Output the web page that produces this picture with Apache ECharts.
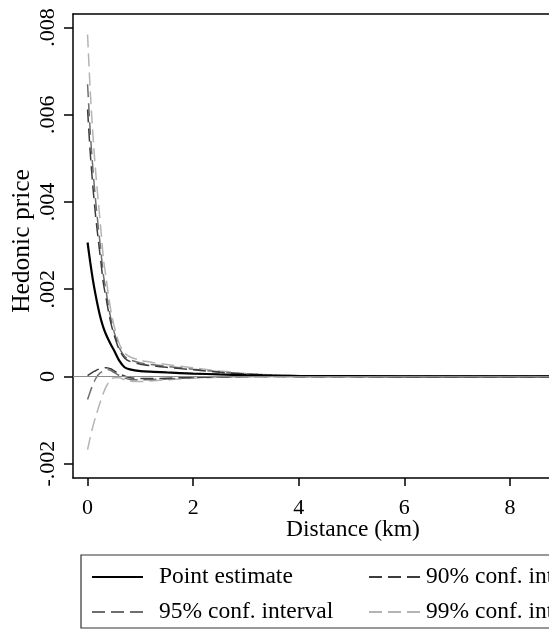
<!DOCTYPE html>
<html>
<head>
<meta charset="utf-8">
<title>Hedonic price by distance</title>
<script src="https://cdn.jsdelivr.net/npm/echarts@6/dist/echarts.min.js"></script>
<style>
    body { margin: 0; background: #fff; }
    #chart { width: 549px; height: 630px; }
</style>
</head>
<body>
<div id="chart"></div>
<script>
// Distance grid (km)
const distance = [0, 0.05, 0.1, 0.15, 0.2, 0.25, 0.3, 0.35, 0.4, 0.45, 0.5, 0.6, 0.7, 0.8, 1.0, 1.25, 1.5, 2.0, 2.5, 3.0, 3.5, 4, 6, 8, 10];

// Point estimate
const pointEstimate = [0.00307, 0.00262, 0.00222, 0.00188, 0.00158, 0.00132, 0.00112, 0.00096, 0.00083, 0.00071, 0.00060, 0.00036, 0.00021, 0.00016, 0.00012, 0.000105, 0.00009, 0.000065, 0.000045, 0.000028, 0.000015, 0.000008, 0.000001, 0, 0];

// Confidence bounds
const upper90 = [0.00612, 0.00514, 0.00436, 0.00371, 0.00316, 0.00265, 0.00213, 0.00180, 0.00146, 0.00118, 0.00096, 0.00061, 0.00042, 0.000345, 0.00028, 0.00024, 0.000207, 0.00015, 0.000095, 0.000053, 0.000028, 0.000015, 0.000003, 0.000001, 0];
const lower90 = [0.00002, 0.00006, 0.0001, 0.00013, 0.00016, 0.00018, 0.00019, 0.0002, 0.00019, 0.00017, 0.00013, 0.00006, 0.00001, -0.00003, -0.00005, -0.00005, -0.00004, -0.00002, -0.00001, -0.000004, 0, 0, 0, 0, 0];
const upper95 = [0.00670, 0.00562, 0.00477, 0.00406, 0.00346, 0.00290, 0.00232, 0.00196, 0.00158, 0.00127, 0.00103, 0.00066, 0.00046, 0.00038, 0.00031, 0.000265, 0.00023, 0.000165, 0.000105, 0.000058, 0.00003, 0.000016, 0.000003, 0.000001, 0];
const lower95 = [-0.00053, -0.00035, -0.00019, -0.00006, 0.00003, 0.00009, 0.00013, 0.00015, 0.00015, 0.00013, 0.00009, 0.00002, -0.00004, -0.00007, -0.00008, -0.00007, -0.00006, -0.00003, -0.000015, -0.000005, 0, 0, 0, 0, 0];
const upper99 = [0.00784, 0.00656, 0.00557, 0.00474, 0.00405, 0.00340, 0.00270, 0.00227, 0.00182, 0.00145, 0.00117, 0.00075, 0.00054, 0.00045, 0.00037, 0.000315, 0.000274, 0.000196, 0.000124, 0.000068, 0.000035, 0.000018, 0.000004, 0.000001, 0];
const lower99 = [-0.00168, -0.00140, -0.00115, -0.00094, -0.00074, -0.00055, -0.00038, -0.00024, -0.00013, -0.00006, -0.00003, -0.00003, -0.00008, -0.00011, -0.00012, -0.0001, -0.00008, -0.00004, -0.00002, -0.00001, -0.000005, -0.000002, 0, 0, 0];

// Axis ticks and labels
const xTicks = [0, 2, 4, 6, 8];
const yTicks = [-0.002, 0, 0.002, 0.004, 0.006, 0.008];
const yTickLabels = ['-.002', '0', '.002', '.004', '.006', '.008'];

const FONT = '"Liberation Serif", "DejaVu Serif", serif';

function pairs(ys) {
    return distance.map((d, i) => [d, ys[i]]);
}

function band(name, ys, color) {
    return {
        name: name,
        type: 'line',
        data: pairs(ys),
        symbol: 'none',
        smooth: 0.25,
        lineStyle: { color: color, width: 1.5, type: [13, 6] },
        itemStyle: { color: color },
        z: 2
    };
}

document.addEventListener('DOMContentLoaded', function() {
    const chart = echarts.init(document.getElementById('chart'), null, { renderer: 'canvas' });

    // legend keys: line only, hide the round marker
    const legendBase = {
        orient: 'vertical',
        top: 565,
        padding: 0,
        itemHeight: 14,
        itemGap: 11,
        itemStyle: { opacity: 0 },
        selectedMode: false
    };

    const option = {
        backgroundColor: '#fff',
        animation: false,
        grid: {
            left: 73,
            top: 14,
            right: 0,
            height: 464,
            show: false,
            outerBoundsMode: 'none'
        },
        xAxis: [{
            type: 'value',
            min: -0.276,
            max: 8.74,
            name: 'Distance (km)',
            nameLocation: 'middle',
            nameGap: 40,
            nameMoveOverlap: false,
            nameTextStyle: { fontFamily: FONT, fontSize: 23.5, color: '#000', padding: [0, 0, 0, 84] },
            axisLine: { show: true, onZero: false, lineStyle: { color: '#000', width: 1.5 } },
            axisTick: { show: true, length: 8, customValues: xTicks, lineStyle: { color: '#000', width: 1.5 } },
            axisLabel: { customValues: xTicks, margin: 19, fontFamily: FONT, fontSize: 22, color: '#000' },
            splitLine: { show: false }
        }, {
            // top frame line
            type: 'value',
            position: 'top',
            min: -0.276,
            max: 8.74,
            axisLine: { show: true, onZero: false, lineStyle: { color: '#000', width: 1.5 } },
            axisTick: { show: false },
            axisLabel: { show: false },
            splitLine: { show: false }
        }],
        yAxis: {
            type: 'value',
            min: -0.00233,
            max: 0.00831,
            name: 'Hedonic price',
            nameLocation: 'middle',
            nameGap: 38,
            nameMoveOverlap: false,
            nameRotate: 90,
            nameTextStyle: { fontFamily: FONT, fontSize: 25.5, color: '#000', padding: [0, 0, 0, 10] },
            axisLine: { show: true, onZero: false, lineStyle: { color: '#000', width: 1.5 } },
            axisTick: { show: true, length: 9, customValues: yTicks, lineStyle: { color: '#000', width: 1.5 } },
            axisLabel: {
                customValues: yTicks,
                rotate: 90,
                margin: 14,
                fontFamily: FONT,
                fontSize: 22,
                color: '#000',
                formatter: function(v) {
                    const i = yTicks.findIndex(t => Math.abs(t - v) < 1e-9);
                    return i >= 0 ? yTickLabels[i] : '';
                }
            },
            splitLine: { show: false }
        },
        legend: [
            Object.assign({}, legendBase, {
                data: ['Point estimate', '95% conf. interval'],
                left: 91,
                itemWidth: 51,
                textStyle: { fontFamily: FONT, fontSize: 23.5, lineHeight: 24, color: '#000', padding: [0, 0, 0, 11] }
            }),
            Object.assign({}, legendBase, {
                data: ['90% conf. interval', '99% conf. interval'],
                left: 368,
                itemWidth: 52,
                textStyle: { fontFamily: FONT, fontSize: 23.5, lineHeight: 24, color: '#000' }
            })
        ],
        graphic: [{
            type: 'rect',
            shape: { x: 81, y: 555, width: 600, height: 73 },
            style: { fill: 'none', stroke: '#333', lineWidth: 1.2 },
            silent: true
        }],
        series: [
            Object.assign(band('99% conf. interval', upper99, '#b4b4b4'), {
                markLine: {
                    silent: true,
                    symbol: 'none',
                    label: { show: false },
                    lineStyle: { color: '#8c8c8c', width: 1.2, type: 'solid' },
                    data: [{ yAxis: 0 }]
                }
            }),
            band('99% conf. interval', lower99, '#b4b4b4'),
            band('95% conf. interval', upper95, '#6e6e6e'),
            band('95% conf. interval', lower95, '#6e6e6e'),
            band('90% conf. interval', upper90, '#3c3c3c'),
            band('90% conf. interval', lower90, '#3c3c3c'),
            {
                name: 'Point estimate',
                type: 'line',
                data: pairs(pointEstimate),
                symbol: 'none',
                smooth: 0.25,
                lineStyle: { color: '#000', width: 2.2 },
                itemStyle: { color: '#000' },
                z: 3
            }
        ]
    };

    chart.setOption(option);
});
</script>
</body>
</html>
